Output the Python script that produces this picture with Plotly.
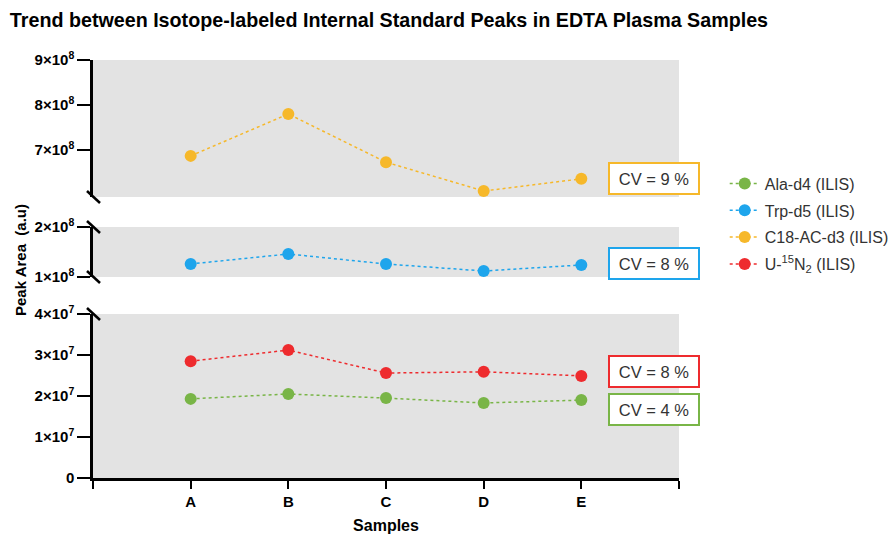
import plotly.graph_objects as go

samples = ["A", "B", "C", "D", "E"]
ala = [1.93e7, 2.05e7, 1.95e7, 1.83e7, 1.90e7]
trp = [1.26e8, 1.46e8, 1.26e8, 1.12e8, 1.24e8]
c18 = [6.87e8, 7.80e8, 6.73e8, 6.09e8, 6.36e8]
u15 = [2.85e7, 3.12e7, 2.56e7, 2.59e7, 2.49e7]
cv_labels = {"c18": "CV = 9 %", "trp": "CV = 8 %", "u15": "CV = 8 %", "ala": "CV = 4 %"}

colors = {"ala": "#79B547", "trp": "#1EA5EC", "c18": "#F6B82A", "u15": "#EE2B2E"}
FONT = "Liberation Sans, Arial, sans-serif"
xpos = list(range(len(samples)))

fig = go.Figure()

def add(y, name, key, yaxis):
    fig.add_trace(go.Scatter(
        x=xpos, y=y, name=name, yaxis=yaxis, mode="lines+markers",
        legendgroup=key,
        line=dict(color=colors[key], width=1.5, dash="dot"),
        marker=dict(color=colors[key], size=12),
        cliponaxis=False,
    ))

add(ala, "Ala-d4 (ILIS)", "ala", "y")
add(trp, "Trp-d5 (ILIS)", "trp", "y2")
add(c18, "C18-AC-d3 (ILIS)", "c18", "y3")
add(u15, "U-<sup>15</sup>N<sub>2</sub> (ILIS)", "u15", "y")

tickfont = dict(family=FONT, size=15, color="black")
yax_common = dict(showline=True, linewidth=2.5, linecolor="black", ticks="outside",
                  ticklen=13, tickwidth=2.2, tickcolor="black", showgrid=False,
                  zeroline=False, tickfont=tickfont, automargin=False)

def sci(v):
    if v == 0:
        return "<b>0</b>"
    exp = len(str(int(v))) - 1
    mant = int(round(v / 10 ** exp))
    return f"<b>{mant}×10<sup>{exp}</sup></b>"

low_ticks = [0, 1e7, 2e7, 3e7, 4e7]
mid_ticks = [1e8, 2e8]
top_ticks = [7e8, 8e8, 9e8]

fig.update_layout(
    width=896, height=534,
    margin=dict(l=93, r=217, t=60, b=56, autoexpand=False),
    paper_bgcolor="white", plot_bgcolor="#E3E3E3",
    showlegend=True,
    legend=dict(x=1.078, y=0.745, xanchor="left", yanchor="top",
                font=dict(family=FONT, size=16, color="#333333"),
                bgcolor="rgba(0,0,0,0)", tracegroupgap=3),
    title=dict(text="<b>Trend between Isotope-labeled Internal Standard Peaks in EDTA Plasma Samples</b>",
               x=0.011, xanchor="left", y=0.962, yanchor="middle",
               font=dict(family=FONT, size=19.7, color="black")),
    xaxis=dict(range=[-1, 5], tickvals=[-1] + xpos + [5], ticktext=[""] + [f"<b>{s}</b>" for s in samples] + [""],
               showline=True, linewidth=2.5, linecolor="black", ticks="outside", ticklen=8,
               tickwidth=2.2, tickcolor="black", showgrid=False, zeroline=False,
               tickfont=dict(family=FONT, size=15, color="black"), anchor="y", automargin=False,
               title=dict(text="<b>Samples</b>", font=dict(family=FONT, size=16, color="black"), standoff=14)),
    yaxis=dict(domain=[0, 0.3923], range=[0, 4e7], tickvals=low_ticks,
               ticktext=[sci(v) for v in low_ticks], **yax_common),
    yaxis2=dict(domain=[0.4809, 0.6005], range=[1e8, 2e8], tickvals=mid_ticks,
                ticktext=[sci(v) for v in mid_ticks], anchor="x", **yax_common),
    yaxis3=dict(domain=[0.6722, 1.0], range=[5.956e8, 9e8], tickvals=top_ticks,
                ticktext=[sci(v) for v in top_ticks], anchor="x", **yax_common),
)

# axis break slashes
for yref, yv in [("y3 domain", 0), ("y2 domain", 1), ("y2 domain", 0), ("y domain", 1)]:
    fig.add_shape(type="line", xref="paper", yref=yref, xsizemode="pixel", ysizemode="pixel",
                  xanchor=0, yanchor=yv, x0=-6, x1=7, y0=6, y1=-6,
                  line=dict(color="black", width=2.5))

# y title
fig.add_annotation(text="<b>Peak Area  (a.u)</b>", xref="paper", yref="paper",
                   x=-0.1246, y=0.5215, xanchor="center", yanchor="middle", textangle=-90,
                   showarrow=False, font=dict(family=FONT, size=15, color="black"))

# CV boxes
for key, yc in [("c18", 0.7165), ("trp", 0.514), ("u15", 0.254), ("ala", 0.165)]:
    fig.add_annotation(text=cv_labels[key], xref="paper", yref="paper", x=0.9565, y=yc,
                       xanchor="center", yanchor="middle", showarrow=False,
                       width=86, height=27, bgcolor="white", bordercolor=colors[key],
                       borderwidth=2, borderpad=1,
                       font=dict(family=FONT, size=16.5, color="#333333"))

fig.write_html("out.html")
